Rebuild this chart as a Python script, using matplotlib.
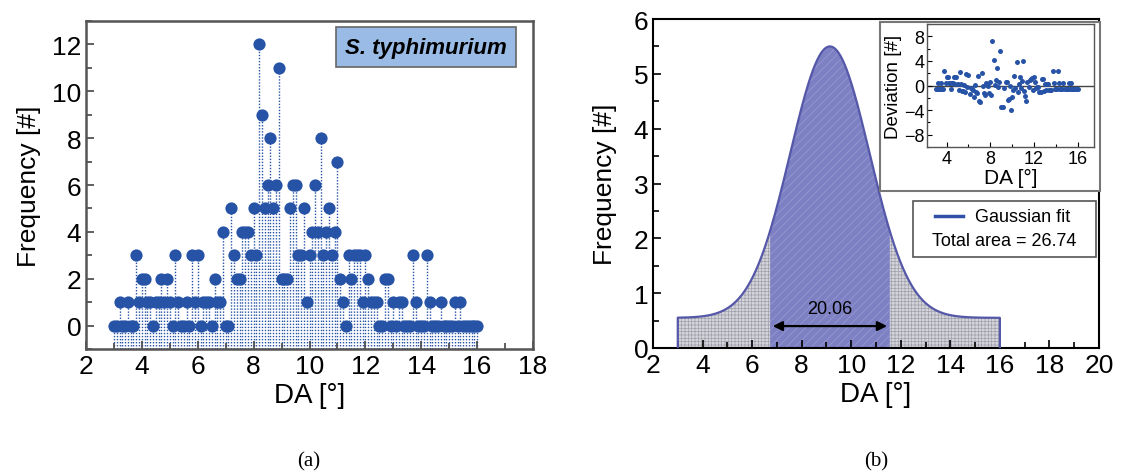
import numpy as np
import matplotlib
matplotlib.use("Agg")
import matplotlib.pyplot as plt
from matplotlib.patches import Rectangle
from matplotlib.lines import Line2D
from matplotlib.ticker import MultipleLocator

plt.rcParams['font.family'] = ['Liberation Sans', 'DejaVu Sans']
plt.rcParams['hatch.linewidth'] = 0.5

# ---- data (panel a): DA bins and counts ----
da_start, da_step = 3.0, 0.1
counts = [
    0, 0, 1, 0, 0, 1, 0, 0, 3, 1,      # 3.0 - 3.9
    2, 2, 1, 1, 0, 1, 1, 2, 1, 2,      # 4.0 - 4.9
    1, 0, 3, 1, 0, 0, 1, 0, 3, 1,      # 5.0 - 5.9
    3, 0, 1, 1, 1, 0, 2, 1, 1, 4,      # 6.0 - 6.9
    0, 0, 5, 3, 2, 2, 4, 4, 4, 3,      # 7.0 - 7.9
    5, 3, 12, 9, 5, 6, 8, 5, 6, 11,    # 8.0 - 8.9
    2, 2, 2, 5, 6, 6, 3, 3, 5, 1,      # 9.0 - 9.9
    3, 4, 6, 4, 8, 3, 4, 5, 3, 4,      # 10.0 - 10.9
    7, 2, 1, 0, 3, 2, 3, 3, 3, 1,      # 11.0 - 11.9
    3, 2, 1, 1, 1, 0, 0, 2, 2, 0,      # 12.0 - 12.9
    1, 0, 1, 1, 0, 0, 0, 3, 1, 0,      # 13.0 - 13.9
    0, 0, 3, 1, 0, 0, 0, 1, 0, 0,      # 14.0 - 14.9
    0, 0, 1, 0, 1, 0, 0, 0, 0, 0,      # 15.0 - 15.9
    0,                                 # 16.0
]
da = da_start + da_step * np.arange(len(counts))
counts = np.array(counts, dtype=float)

# ---- Gaussian fit parameters (panel b) ----
fit_xc = 9.14
fit_sigma = 1.6
fit_y0 = 0.55
fit_amp = 4.95
fit_range = (3.0, 16.0)
band_lo, band_hi = 6.72, 11.56
fwhm_area_label = "20.06"
total_area_label = "Total area = 26.74"

def gauss(x):
    return fit_y0 + fit_amp * np.exp(-(x - fit_xc) ** 2 / (2 * fit_sigma ** 2))

dot_color = '#2753a6'
curve_color = '#5557a8'

fig = plt.figure(figsize=(11.21, 4.77), dpi=100)

# ================= panel (a) =================
axa = fig.add_axes([86/1121, 1-350/477, 447/1121, 328/477])
for xv, cv in zip(da, counts):
    axa.plot([xv, xv], [-1, cv], linestyle=(0, (1, 1.2)), color=dot_color, lw=1.0, zorder=1)
axa.plot(da, counts, 'o', color=dot_color, ms=8.8, mec='none', zorder=2)
axa.set_xlim(2, 18)
axa.set_ylim(-1, 13)
axa.xaxis.set_major_locator(MultipleLocator(2))
axa.xaxis.set_minor_locator(MultipleLocator(1))
axa.yaxis.set_minor_locator(MultipleLocator(1))
axa.set_yticks(range(0, 13, 2))
axa.tick_params(which='both', direction='in', labelsize=19, width=1.2, color='#444444')
axa.tick_params(which='major', length=6)
axa.tick_params(which='minor', length=4)
for s in axa.spines.values():
    s.set_color('#555555'); s.set_linewidth(1.8)
axa.set_xlabel('DA [°]', fontsize=20, labelpad=3)
axa.set_ylabel('Frequency [#]', fontsize=19, labelpad=8)
axa.text(0.761, 0.92, 'S. typhimurium', transform=axa.transAxes, ha='center', va='center',
         fontsize=16, fontweight='bold', fontstyle='italic',
         bbox=dict(boxstyle='square,pad=0.42', facecolor='#99bbe6', edgecolor='#666666', lw=1.2))

# ================= panel (b) =================
axb = fig.add_axes([653/1121, 1-349/477, 446/1121, 329/477])
xs = np.linspace(fit_range[0], fit_range[1], 800)
ys = gauss(xs)
axb.fill_between(xs, 0, ys, where=xs <= band_lo + 0.02, facecolor='#d4d4db', edgecolor='#a0a0ab',
                 hatch='+++++', lw=0, zorder=1)
axb.fill_between(xs, 0, ys, where=xs >= band_hi - 0.02, facecolor='#d4d4db', edgecolor='#a0a0ab',
                 hatch='+++++', lw=0, zorder=1)
axb.fill_between(xs, 0, ys, where=(xs >= band_lo) & (xs <= band_hi), facecolor='#7d80c2',
                 edgecolor='#9a9dd4', hatch='////', lw=0, zorder=1)
ox = np.concatenate([[xs[0]], xs, [xs[-1]]])
oy = np.concatenate([[0], ys, [0]])
axb.plot(ox, oy, color=curve_color, lw=1.6, zorder=3)
axb.annotate('', xy=(band_lo, 0.4), xytext=(band_hi, 0.4),
             arrowprops=dict(arrowstyle='<|-|>', color='black', lw=1.6, mutation_scale=14), zorder=4)
axb.text(fit_xc, 0.72, fwhm_area_label, ha='center', va='center', fontsize=13, zorder=4)
axb.set_xlim(2, 20)
axb.set_ylim(0, 6)
axb.xaxis.set_major_locator(MultipleLocator(2))
axb.xaxis.set_minor_locator(MultipleLocator(1))
axb.yaxis.set_major_locator(MultipleLocator(1))
axb.yaxis.set_minor_locator(MultipleLocator(0.5))
axb.tick_params(which='both', direction='in', labelsize=19, width=1.2)
axb.tick_params(which='major', length=6)
axb.tick_params(which='minor', length=4)
for s in axb.spines.values():
    s.set_linewidth(1.5)
axb.set_xlabel('DA [°]', fontsize=20, labelpad=3)
axb.set_ylabel('Frequency [#]', fontsize=19, labelpad=12)

# inset background box
fig.patches.append(Rectangle((880/1121, 1-192/477), 220/1121, 169/477, transform=fig.transFigure,
                             facecolor='white', edgecolor='#777777', lw=1.5, zorder=5))
# legend box
fig.patches.append(Rectangle((913/1121, 1-258/477), 183/1121, 56/477, transform=fig.transFigure,
                             facecolor='white', edgecolor='#555555', lw=1.2, zorder=5))
fig.lines.append(Line2D([935/1121, 963/1121], [1-217/477, 1-217/477], transform=fig.transFigure,
                        color='#3050a8', lw=2.5, zorder=6))
fig.text(975/1121, 1-217/477, 'Gaussian fit', fontsize=13, va='center', ha='left', zorder=6)
fig.text(1004/1121, 1-242/477, total_area_label, fontsize=13, va='center', ha='center', zorder=6)

# inset deviation
axi = fig.add_axes([927/1121, 1-148/477, 167/1121, 123/477])
axi.set_zorder(7)
resid = counts - gauss(da)
axi.axhline(0, color='#444444', lw=1.0, zorder=1)
axi.plot(da, resid, 'o', color=dot_color, ms=3.6, mec='none', zorder=2)
axi.set_xlim(2.2, 17.5)
axi.set_ylim(-10, 10)
axi.set_xticks([4, 8, 12, 16])
axi.set_yticks([-8, -4, 0, 4, 8])
axi.xaxis.set_minor_locator(MultipleLocator(2))
axi.yaxis.set_minor_locator(MultipleLocator(2))
axi.tick_params(which='both', direction='in', labelsize=13, width=0.8, pad=2)
axi.tick_params(which='major', length=3.5)
axi.tick_params(which='minor', length=2)
for s in axi.spines.values():
    s.set_color('#555555'); s.set_linewidth(1.0)
axi.set_xlabel('DA [°]', fontsize=15, labelpad=1)
axi.set_ylabel('Deviation [#]', fontsize=13.5, labelpad=1)

# captions
fig.text(309/1121, 1-462/477, '(a)', fontsize=15, family=['Liberation Serif', 'DejaVu Serif'],
         ha='center', va='center')
fig.text(876/1121, 1-462/477, '(b)', fontsize=15, family=['Liberation Serif', 'DejaVu Serif'],
         ha='center', va='center')

fig.savefig('out.png', dpi=100)
